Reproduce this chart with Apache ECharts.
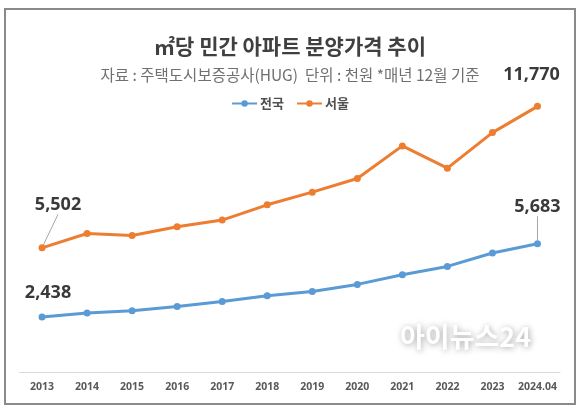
<!DOCTYPE html>
<html><head><meta charset="utf-8">
<script src="https://cdn.jsdelivr.net/npm/echarts@6/dist/echarts.min.js"></script>
<style>html,body{margin:0;padding:0;background:#fff}#c{width:580px;height:411px}</style>
</head><body><div id="c"></div>
<script>
const categories = ['2013','2014','2015','2016','2017','2018','2019','2020','2021','2022','2023','2024.04'];
const national = [2438, 2615, 2717, 2907, 3128, 3381, 3571, 3881, 4310, 4677, 5270, 5683];
const seoul = [5502, 6137, 6049, 6434, 6730, 7407, 7969, 8571, 10018, 9031, 10606, 11770];
const seriesNames = ['전국', '서울'];
const titleText = '㎡당 민간 아파트 분양가격 추이';
const subtitleText = '자료 : 주택도시보증공사(HUG)  단위 : 천원 *매년 12월 기준';

const labelOffsets = {
  '0-0': [6, -12], '0-11': [0, -24],
  '1-0': [16, -30], '1-11': [-6, -19]
};
function mkData(vals, si) {
  return vals.map((v, i) => {
    if (i === 0 || i === vals.length - 1) {
      return { value: v, label: { show: true }, labelLine: { show: (si===1&&i===0)||(si===0&&i===vals.length-1) } };
    }
    return v;
  });
}
const chart = echarts.init(document.getElementById('c'));
const labelStyle = {
  show: false, position: 'top', distance: 0,
  fontFamily: '"Open Sans", sans-serif', fontWeight: 'bold', fontSize: 18, color: '#3a3a3a',
  formatter: p => p.value.toLocaleString('en-US')
};
chart.setOption({
  animation: false,
  backgroundColor: '#fff',
  title: [{
    text: titleText, left: 'center', top: 31,
    textStyle: { fontFamily: '"Noto Sans CJK KR"', fontWeight: 'bold', fontSize: 21, color: '#404040' }
  }, {
    text: subtitleText, left: 'center', top: 62,
    textStyle: { fontFamily: '"Noto Sans CJK KR"', fontWeight: 'normal', fontSize: 15.5, color: '#707070' }
  }],
  legend: {
    data: seriesNames, top: 92, left: 'center', itemWidth: 25, itemHeight: 8, itemGap: 12,
    textStyle: { fontFamily: '"Noto Sans CJK KR"', fontSize: 13, fontWeight: 'bold', color: '#505050', padding: [0,0,0,-2] }
  },
  grid: { left: 19.5, right: 20, top: 56, bottom: 39 },
  xAxis: {
    type: 'category', data: categories, boundaryGap: true,
    axisLine: { lineStyle: { color: '#d9d9d9', width: 1 } },
    axisTick: { show: false },
    axisLabel: { fontFamily: '"Open Sans", sans-serif', fontWeight: 'bold', fontSize: 10.5, color: '#595959', margin: 10, interval: 0 }
  },
  yAxis: { type: 'value', min: 0, max: 14000, show: false, splitLine: { show: false } },
  series: [{
    name: seriesNames[0], type: 'line', data: mkData(national, 0),
    color: '#5B9BD5', symbol: 'circle', symbolSize: 7,
    lineStyle: { width: 3, color: '#5B9BD5' }, itemStyle: { color: '#5B9BD5' },
    label: labelStyle,
    labelLine: { lineStyle: { color: '#a6a6a6', width: 1 } },
    labelLayout: p => { const o = labelOffsets['0-' + p.dataIndex]; return o ? { dx: o[0], dy: o[1] } : {}; }
  }, {
    name: seriesNames[1], type: 'line', data: mkData(seoul, 1),
    color: '#ED7D31', symbol: 'circle', symbolSize: 7,
    lineStyle: { width: 3, color: '#ED7D31' }, itemStyle: { color: '#ED7D31' },
    label: labelStyle,
    labelLine: { lineStyle: { color: '#a6a6a6', width: 1 } },
    labelLayout: p => { const o = labelOffsets['1-' + p.dataIndex]; return o ? { dx: o[0], dy: o[1] } : {}; }
  }],
  graphic: [{
    type: 'rect', shape: { x: 5, y: 9, width: 570, height: 395 }, silent: true, z: -1,
    style: { fill: 'none', stroke: '#8a8a8a', lineWidth: 2 }
  }, {
    type: 'text', left: 400, top: 323, silent: true, z: -1,
    style: { text: '아이뉴스24', fill: '#ffffff', font: 'bold 27px "Noto Sans CJK KR"',
      textShadowColor: 'rgba(0,0,0,0.35)', textShadowBlur: 6, textShadowOffsetX: 1, textShadowOffsetY: 1 }
  }]
});
</script></body></html>
